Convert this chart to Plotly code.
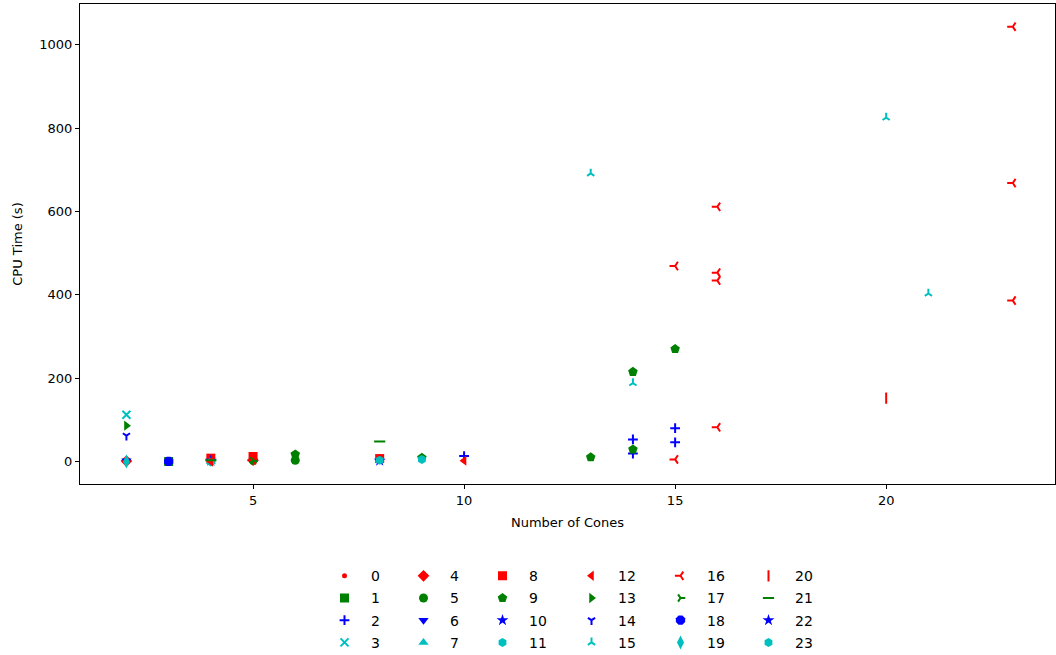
import plotly.graph_objects as go

# ---- data ----
cones = [2, 2, 2, 2, 2, 2, 2,
         3, 3,
         4, 4, 4, 4, 4, 4,
         5, 5, 5, 5, 5,
         6, 6,
         8, 8, 8, 8,
         9, 9,
         10, 10,
         13, 13,
         14, 14, 14, 14, 14,
         15, 15, 15, 15, 15,
         16, 16, 16, 16,
         20, 20,
         21,
         23, 23, 23]
cpu_time = [0, 1, 2, 0, 112, 86, 62,
            0, 0,
            8, 3, 2, -1, 0, 0,
            12, 3, 3, 3, 2,
            17, 3,
            48, 7, 2, 3,
            9, 5,
            13, 2,
            10, 691,
            215, 188, 53, 29, 19,
            270, 80, 46, 469, 5,
            611, 453, 434, 82,
            825, 152,
            403,
            1043, 668, 386]
series_id = [0, 4, 6, 19, 3, 13, 14,
             1, 18,
             8, 21, 10, 11, 12, 7,
             8, 5, 16, 4, 17,
             9, 5,
             21, 8, 22, 23,
             9, 23,
             2, 12,
             9, 15,
             9, 15, 2, 9, 2,
             9, 2, 2, 16, 16,
             16, 16, 16, 16,
             15, 20,
             15,
             16, 16, 16]

series_names = [str(i) for i in range(24)]
colors = ["#FF0000", "#008000", "#0000FF", "#00BFBF"]
symbols = ["circle", "square", "cross-thin", "x-thin",
           "diamond", "circle", "triangle-down", "triangle-up",
           "square", "pentagon", "star", "hexagon",
           "triangle-left", "triangle-right", "y-down-open", "y-up-open",
           "y-left-open", "y-right-open", "octagon", "diamond-tall",
           "line-ns-open", "line-ew-open", "star", "hexagon"]
sizes = [5, 9, 7, 8, 9, 9, 9, 9, 9, 10, 9, 9, 9, 9, 6, 6,
         7, 6, 10, 10, 8, 8, 9, 9]
line_symbols = {2, 3, 14, 15, 16, 17, 20, 21}

fig = go.Figure()
legend_left_px = [318, 397, 476, 565, 654, 742]
for i, name in enumerate(series_names):
    xs = [x for x, s in zip(cones, series_id) if s == i]
    ys = [y for y, s in zip(cpu_time, series_id) if s == i]
    c = colors[i % 4]
    marker = dict(symbol=symbols[i], size=sizes[i], color=c)
    if i in line_symbols:
        marker["line"] = dict(width=2, color=c)
    else:
        marker["line"] = dict(width=0)
    col = i // 4
    fig.add_trace(go.Scatter(
        x=xs, y=ys, mode="markers", name=name, marker=marker,
        legendgroup=name,
        legend="legend" if col == 0 else f"legend{col + 1}",
    ))

# figure is drawn taller than the 655px window so the legend never pushes
# the margins; the page overflow is hidden.
plot_l, plot_r, plot_t, plot_b = 80, 1055, 4, 484
W, H = 1056, 690
pw, ph = plot_r - plot_l, plot_b - plot_t

leg_common = dict(
    orientation="v", yanchor="top", xanchor="left",
    font=dict(family="DejaVu Sans", size=14, color="black"),
    bgcolor="rgba(0,0,0,0)", itemclick=False, itemdoubleclick=False,
    tracegroupgap=1, itemwidth=43,
)
layout_legends = {}
for col, px in enumerate(legend_left_px):
    key = "legend" if col == 0 else f"legend{col + 1}"
    layout_legends[key] = dict(leg_common, x=(px - plot_l) / pw,
                               y=-(560.2 - plot_b) / ph)

axis_common = dict(
    showline=True, linecolor="black", linewidth=1, mirror=True,
    ticks="outside", ticklen=4, tickcolor="black", showgrid=False,
    zeroline=False, tickfont=dict(family="DejaVu Sans", size=13, color="black"),
)

fig.update_layout(
    width=W, height=H,
    margin=dict(l=plot_l, r=W - plot_r, t=plot_t, b=H - plot_b),
    plot_bgcolor="white", paper_bgcolor="white",
    xaxis=dict(axis_common, range=[0.9, 24.0], tickvals=[5, 10, 15, 20],
               title=dict(text="Number of Cones", standoff=11,
                          font=dict(family="DejaVu Sans", size=13, color="black"))),
    yaxis=dict(axis_common, range=[-54, 1097.5],
               tickvals=[0, 200, 400, 600, 800, 1000],
               title=dict(text="CPU Time (s)", standoff=13,
                          font=dict(family="DejaVu Sans", size=13, color="black"))),
    showlegend=True,
    **layout_legends,
)

fig.write_html(
    "out.html",
    post_script="document.body.style.margin='0px';"
                "document.body.style.overflow='hidden';"
                "document.documentElement.style.overflow='hidden';",
    config={"displayModeBar": False},
)
